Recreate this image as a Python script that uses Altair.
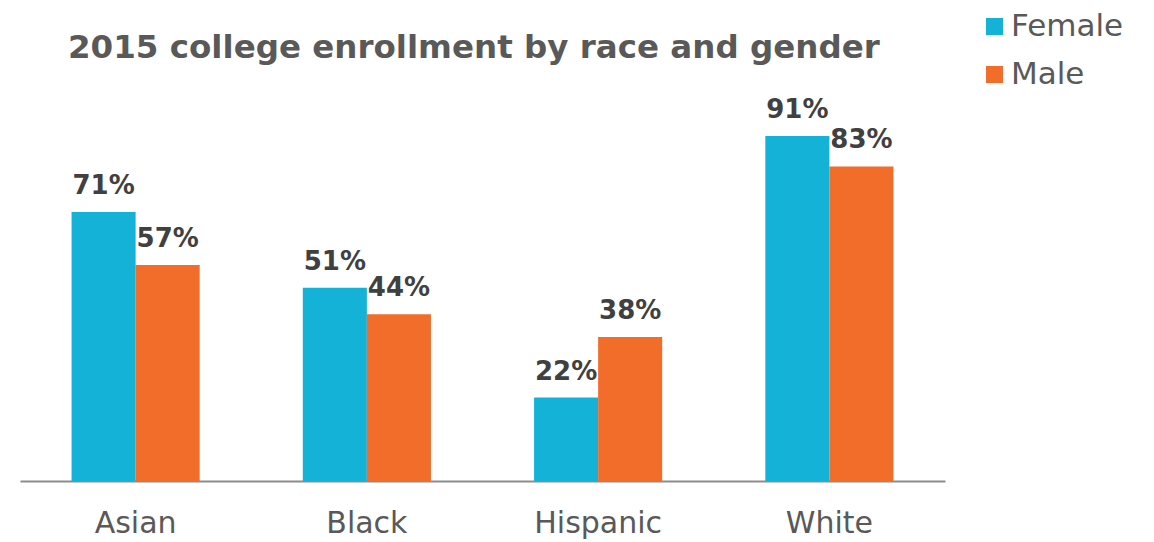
import altair as alt
import pandas as pd

races = ["Asian", "Black", "Hispanic", "White"]
female = [71, 51, 22, 91]
male = [57, 44, 38, 83]
genders = ["Female", "Male"]
colors = ["#14B2D7", "#F26C2A"]

rows = []
for r, f, m in zip(races, female, male):
    rows.append({"race": r, "gender": "Female", "value": f, "label": f"{f}%"})
    rows.append({"race": r, "gender": "Male", "value": m, "label": f"{m}%"})
df = pd.DataFrame(rows)

FONT = "DejaVu Sans"

x = alt.X("race:N", sort=races, title=None,
          scale=alt.Scale(paddingInner=0, paddingOuter=0),
          axis=alt.Axis(labelAngle=0, labelFontSize=30, labelColor="#595959", labelFont=FONT,
                        labelPadding=27, ticks=False, domainColor="#8C8C8C", domainWidth=2))
xo = alt.XOffset("gender:N", sort=genders, scale=alt.Scale(paddingInner=0, paddingOuter=0.805))
y = alt.Y("value:Q", scale=alt.Scale(domain=[0, 100]), axis=None)

base = alt.Chart(df)
bars = base.mark_bar().encode(
    x=x, xOffset=xo, y=y,
    color=alt.Color("gender:N", sort=genders,
                    scale=alt.Scale(domain=genders, range=colors),
                    legend=alt.Legend(title=None, orient="none", legendX=959, legendY=-91,
                                      symbolType="square", symbolSize=289, symbolStrokeWidth=0,
                                      labelFontSize=31, labelFont=FONT, labelColor="#595959",
                                      labelLimit=400, rowPadding=16, labelOffset=1)),
)
labels = base.mark_text(baseline="alphabetic", dy=-18, fontSize=26, fontWeight="bold",
                        font=FONT, color="#404040").encode(
    x=x, xOffset=xo, y=y, text="label:N")

chart = (bars + labels).properties(
    width=925, height=379,
    title=alt.TitleParams("2015 college enrollment by race and gender", anchor="start",
                          fontSize=32.5, fontWeight="bold", font=FONT, color="#595959",
                          frame="group", baseline="alphabetic",
                          dx=48, dy=79, offset=0),
    padding={"left": 12, "top": 94, "right": 201, "bottom": 62},
    autosize=alt.AutoSizeParams(type="none"),
).configure_view(stroke=None)

chart.save("out.html", embed_options={"renderer": "svg", "actions": False})
